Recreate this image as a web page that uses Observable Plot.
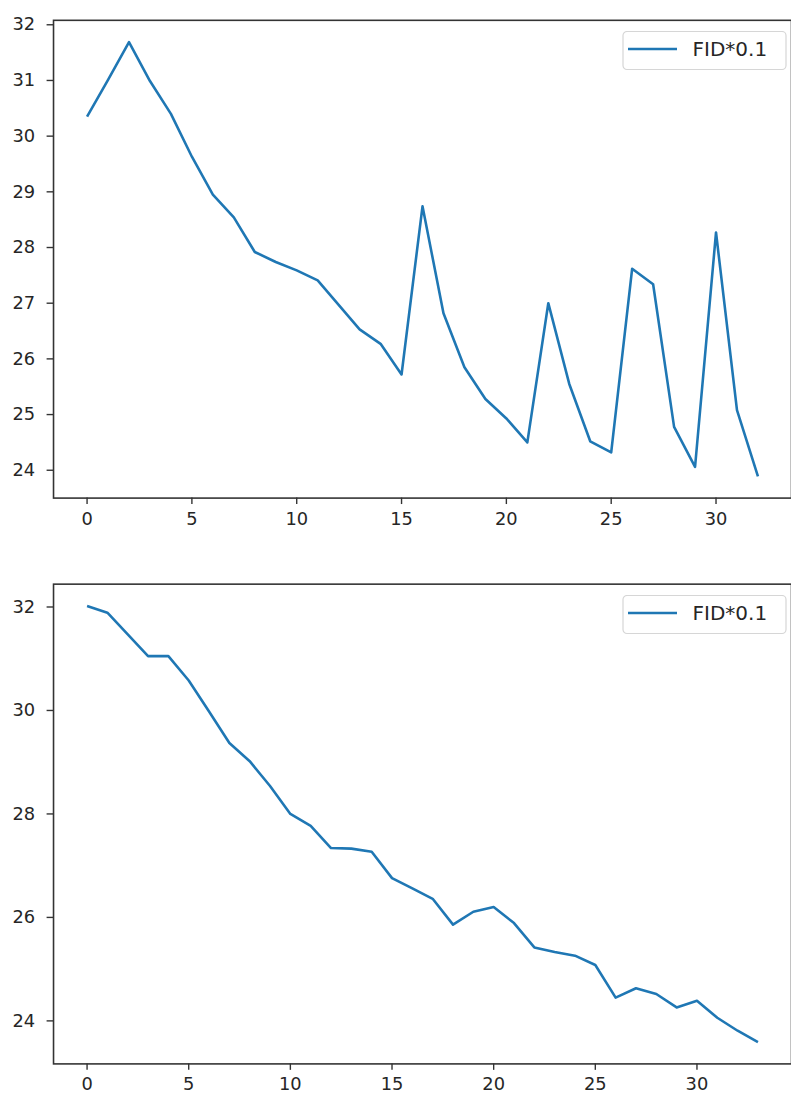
<!DOCTYPE html>
<html>
<head>
<meta charset="utf-8">
<script src="https://cdn.jsdelivr.net/npm/d3@7"></script>
<script src="https://cdn.jsdelivr.net/npm/@observablehq/plot@0.6"></script>
<style>
  html, body { margin: 0; padding: 0; overflow: hidden; background: #fff; width: 791px; height: 1104px; }
  #wrap { position: relative; width: 791px; height: 1104px; overflow: hidden; }
  .panel { position: absolute; left: 0; }
  .legend { position: absolute; left: 622px; }
</style>
</head>
<body>
<div id="wrap"></div>
<script>
// ---- data ----
const seriesLabel = "FID*0.1";

const stepsTop = [0,1,2,3,4,5,6,7,8,9,10,11,12,13,14,15,16,17,18,19,20,21,22,23,24,25,26,27,28,29,30,31,32];
const fidTop = [30.35,31.01,31.69,30.99,30.40,29.63,28.95,28.54,27.92,27.74,27.59,27.41,26.97,26.53,26.27,25.72,28.74,26.82,25.85,25.28,24.93,24.50,27.00,25.55,24.52,24.32,27.62,27.34,24.78,24.06,28.27,25.08,23.89];
const yTicksTop = [24,25,26,27,28,29,30,31,32];

const stepsBottom = [0,1,2,3,4,5,6,7,8,9,10,11,12,13,14,15,16,17,18,19,20,21,22,23,24,25,26,27,28,29,30,31,32,33];
const fidBottom = [32.02,31.89,31.47,31.05,31.05,30.58,29.98,29.37,29.02,28.54,28.00,27.77,27.34,27.33,27.27,26.76,26.56,26.36,25.86,26.11,26.20,25.89,25.42,25.33,25.26,25.08,24.45,24.63,24.52,24.26,24.39,24.06,23.81,23.59];
const yTicksBottom = [24,26,28,30,32];

const xTicks = [0,5,10,15,20,25,30];

// ---- styling ----
const blue = "#1f77b4";
const font = "DejaVu Sans, sans-serif";
const W = 798; // right spine falls just outside the 791px window, as in the reference

function pad(extent) {
  const [a, b] = extent;
  const m = (b - a) * 0.05;
  return [a - m, b + m];
}

function panel(xs, ys, yTicks, top, height, mTop, mBottom) {
  const data = xs.map((x, i) => ({x, y: ys[i]}));
  const chart = Plot.plot({
    width: W,
    height: height,
    marginLeft: 53.5,
    marginRight: 0,
    marginTop: mTop,
    marginBottom: mBottom,
    style: {fontFamily: font, fontSize: "18px", color: "#262626", background: "transparent", overflow: "visible"},
    x: {domain: pad(d3.extent(xs)), label: null},
    y: {domain: pad(d3.extent(ys)), label: null},
    marks: [
      Plot.axisX({ticks: xTicks, tickSize: 6.5, tickPadding: 7.5, fontSize: 18, label: null, stroke: "#333", strokeWidth: 1.4}),
      Plot.axisY({ticks: yTicks, tickSize: 6.5, tickPadding: 12, fontSize: 18, label: null, stroke: "#333", strokeWidth: 1.4}),
      Plot.line(data, {x: "x", y: "y", stroke: blue, strokeWidth: 2.6, strokeLinejoin: "round", strokeLinecap: "butt"}),
      Plot.frame({stroke: "#333", strokeWidth: 1.6})
    ]
  });
  chart.classList.add("panel");
  chart.style.top = top + "px";
  document.getElementById("wrap").appendChild(chart);
}

function legend(top) {
  const svg = d3.create("svg")
    .attr("class", "legend")
    .attr("width", 166)
    .attr("height", 40)
    .style("top", top + "px");
  svg.append("rect")
    .attr("x", 1).attr("y", 0.5).attr("width", 163).attr("height", 38)
    .attr("rx", 4).attr("ry", 4)
    .attr("fill", "rgba(255,255,255,0.8)")
    .attr("stroke", "#d6d6d6").attr("stroke-width", 1.2);
  svg.append("line")
    .attr("x1", 6).attr("x2", 55).attr("y1", 18).attr("y2", 18)
    .attr("stroke", blue).attr("stroke-width", 2.6);
  svg.append("text")
    .attr("x", 70.5).attr("y", 25)
    .attr("font-family", font).attr("font-size", 20)
    .attr("fill", "#262626")
    .text(seriesLabel);
  document.getElementById("wrap").appendChild(svg.node());
}

panel(stepsTop, fidTop, yTicksTop, 0, 545, 20, 43);
panel(stepsBottom, fidBottom, yTicksBottom, 545, 559, 39, 36);
legend(31);
legend(595);
</script>
</body>
</html>
